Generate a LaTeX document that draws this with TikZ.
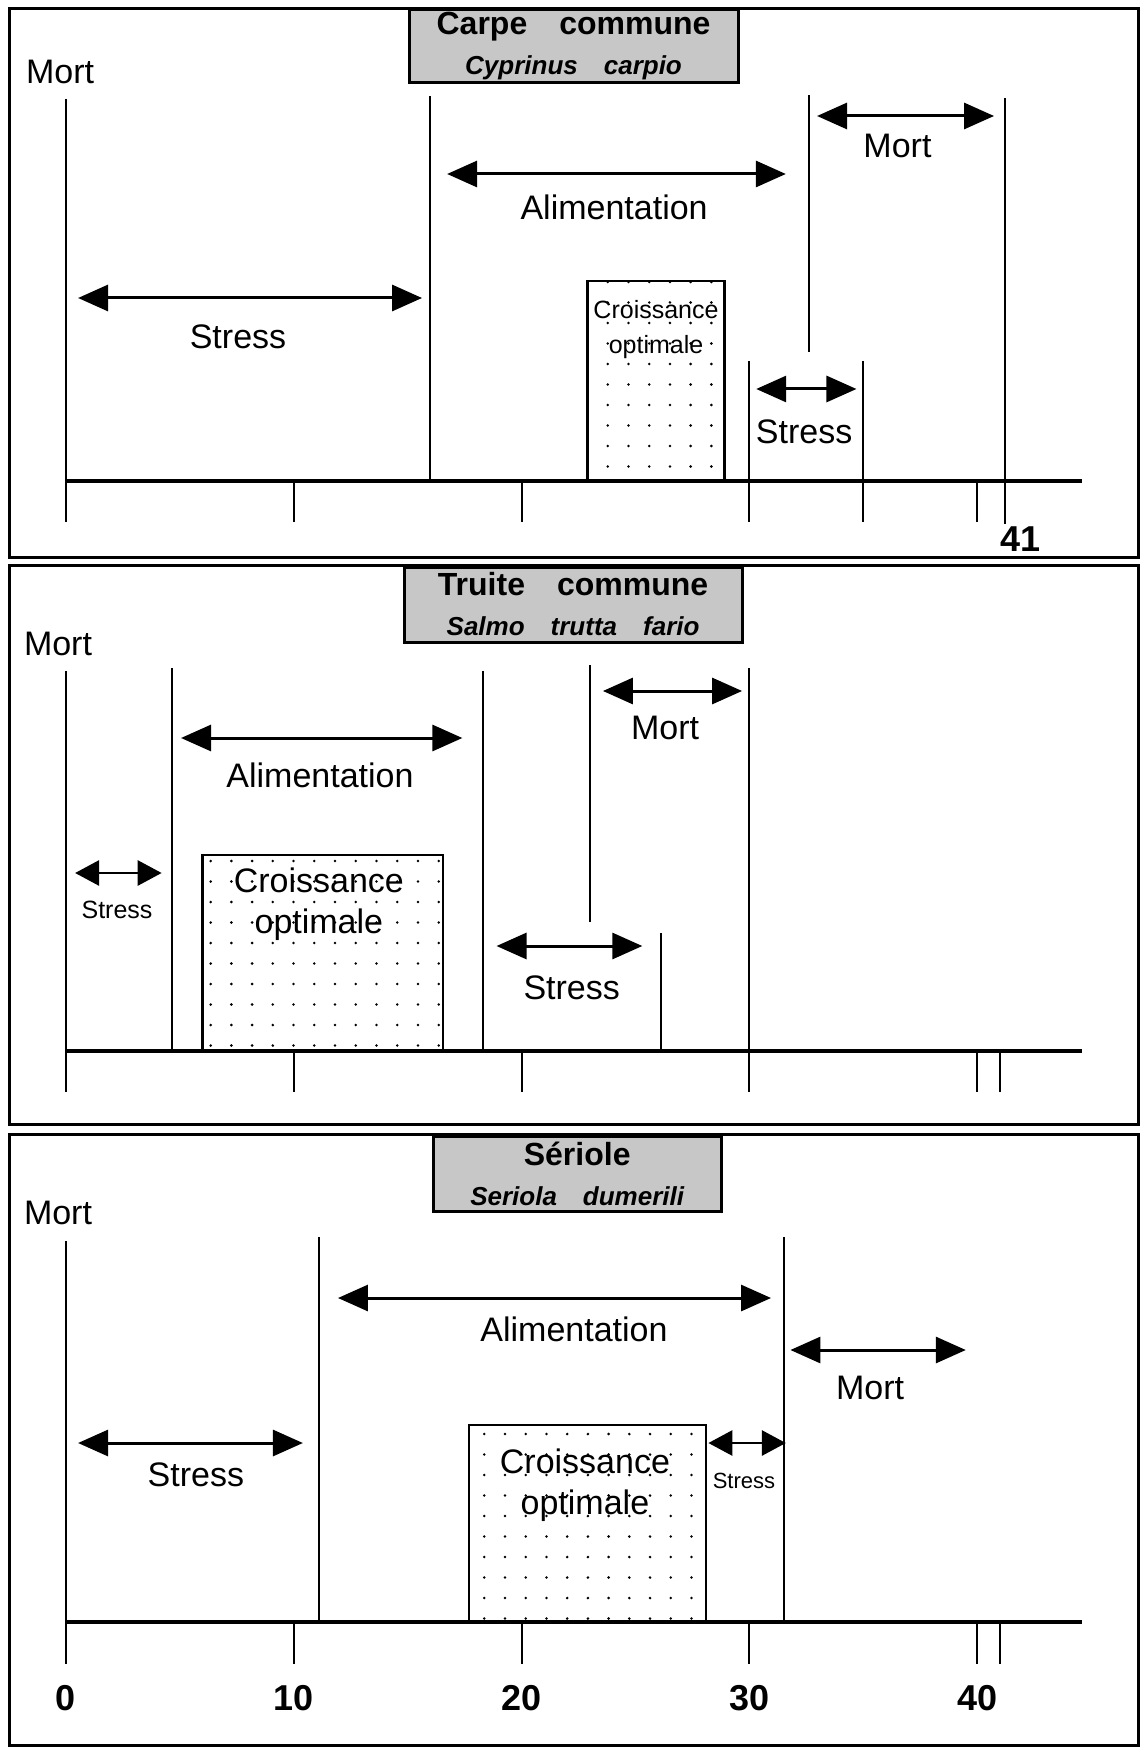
\documentclass[tikz,border=0pt]{standalone}
\usepackage{fontspec}
\setmainfont{Liberation Sans}
\usepackage{tikz}
\usetikzlibrary{arrows.meta}
\tikzset{
    frame line/.style={line width=1.5pt},
    axis line/.style={line width=1.6pt},
    limit line/.style={line width=1pt},
    range line/.style={line width=1.5pt,
      {Triangle[length=15pt,width=13pt]}-{Triangle[length=15pt,width=13pt]}},
    small range line/.style={line width=1.4pt,
      {Triangle[length=12pt,width=12.5pt]}-{Triangle[length=12pt,width=12.5pt]}},
    zone/.style={font=\fontsize{17}{20}\selectfont},
    title box/.style={draw, line width=1.5pt, fill=black!22, align=center,
      inner sep=0pt, font=\fontsize{16}{20}\selectfont},
    growth box/.style={draw, line width=1.2pt},
    tick label/.style={font=\fontsize{18}{20}\selectfont\bfseries}
}
% axis line at #1, ticks down to #2 at the values #3
\newcommand{\fishaxis}[3]{%
  \draw[axis line] (0,#1) -- (44.6,#1);
  \foreach \tk in {#3} \draw[limit line] (\tk,#1) -- (\tk,#2);}
% dotted box (#1,#2)-(#3,#4), first dot offset #5 (x) and #6 (y)
\newcommand{\stipple}[6]{%
  \begin{scope}
    \clip (#1,#2) rectangle (#3,#4);
    \foreach \i in {0,...,12} \foreach \j in {0,...,10}
      \fill (#1+#5+0.91*\i, #2+#6+20.5*\j) circle [radius=0.7pt];
  \end{scope}
  \draw[growth box] (#1,#2) rectangle (#3,#4);}

\begin{document}
\begin{tikzpicture}[x=11.39pt, y=-0.5pt]
  \useasboundingbox (-2.897,0) rectangle (47.41,1748);

  % carpe commune
  \draw[frame line] (-2.5,9) rectangle (47.1,557);
  \node[title box, minimum width=164.5pt, minimum height=36.5pt] (ctitle)
  at (22.28,46.5) {\fontsize{16}{20}\selectfont\bfseries Carpe\quad commune\\
    \fontsize{13}{20}\selectfont\bfseries\itshape Cyprinus\quad carpio};
  \node[zone] (cmort) at (-0.26,72) {Mort};
  \fishaxis{481}{522}{0,10,20,40}
  \draw[limit line] (0,99) -- (0,481);
  \draw[limit line] (16,96) -- (16,481);
  \draw[limit line] (32.6,95) -- (32.6,352);
  \draw[limit line] (41.2,98) -- (41.2,524);
  \draw[limit line] (30,361) -- (30,522);
  \draw[limit line] (35,361) -- (35,522);

  \coordinate (cM0) at (32.97,116); \coordinate (cM1) at (40.74,116);
  \draw[range line] (cM0) -- (cM1);
  \node[zone] (cmortb) at (36.5,146) {Mort};
  \coordinate (cA0) at (16.73,174); \coordinate (cA1) at (31.6,174);
  \draw[range line] (cA0) -- (cA1);
  \node[zone] (calim) at (24.06,207) {Alimentation};
  \coordinate (cS0) at (0.53,298); \coordinate (cS1) at (15.63,298);
  \draw[range line] (cS0) -- (cS1);
  \node[zone] (cstress) at (7.55,337) {Stress};
  \coordinate (cT0) at (30.3,389); \coordinate (cT1) at (34.7,389);
  \draw[range line] (cT0) -- (cT1);
  \node[zone] (cstressb) at (32.4,432) {Stress};

  \stipple{22.9}{281}{28.9}{481}{0.88}{1}
  \node[font=\fontsize{12.5}{17.5}\selectfont, align=center] (cgrowth)
  at (25.9,330) {Croissance\\optimale};
  \node[tick label] (c41) at (41.88,539) {41};

  % truite commune
  \draw[frame line] (-2.5,565) rectangle (47.1,1124);
  \node[title box, minimum width=169pt, minimum height=37.5pt] (ttitle)
  at (22.26,604.5) {\fontsize{16}{20}\selectfont\bfseries Truite\quad commune\\
    \fontsize{13}{20}\selectfont\bfseries\itshape Salmo\quad trutta\quad fario};
  \node[zone] (tmort) at (-0.35,644) {Mort};
  \fishaxis{1051}{1092}{0,10,20,40,41}
  \draw[limit line] (0,671) -- (0,1051);
  \draw[limit line] (4.64,668) -- (4.64,1051);
  \draw[limit line] (18.3,671) -- (18.3,1051);
  \draw[limit line] (23,665) -- (23,922);
  \draw[limit line] (26.1,933) -- (26.1,1051);
  \draw[limit line] (30,668) -- (30,1092);

  \coordinate (tM0) at (23.57,691); \coordinate (tM1) at (29.68,691);
  \draw[range line] (tM0) -- (tM1);
  \node[zone] (tmortb) at (26.3,728) {Mort};
  \coordinate (tA0) at (5.05,738); \coordinate (tA1) at (17.4,738);
  \draw[range line] (tA0) -- (tA1);
  \node[zone] (talim) at (11.15,775) {Alimentation};
  \coordinate (tS0) at (0.4,873); \coordinate (tS1) at (4.2,873);
  \draw[small range line] (tS0) -- (tS1);
  \node[font=\fontsize{12.5}{15}\selectfont] (tstress) at (2.24,910) {Stress};
  \coordinate (tT0) at (18.9,946); \coordinate (tT1) at (25.3,946);
  \draw[range line] (tT0) -- (tT1);
  \node[zone] (tstressb) at (22.2,988) {Stress};

  \stipple{6.0}{855}{16.55}{1051}{0.35}{6}
  \node[font=\fontsize{17}{20.5}\selectfont, align=center] (tgrowth)
  at (11.1,904) {Croissance\\optimale};

  % seriole
  \draw[frame line] (-2.5,1134) rectangle (47.1,1745);
  \node[title box, minimum width=144pt, minimum height=37.5pt] (stitle)
  at (22.44,1173.5) {\fontsize{16}{20}\selectfont\bfseries Sériole\\
    \fontsize{13}{20}\selectfont\bfseries\itshape Seriola\quad dumerili};
  \node[zone] (smort) at (-0.35,1213) {Mort};
  \fishaxis{1622}{1664}{0,10,20,30,40,41}
  \draw[limit line] (0,1241) -- (0,1622);
  \draw[limit line] (11.1,1237) -- (11.1,1622);
  \draw[limit line] (31.5,1237) -- (31.5,1622);

  \coordinate (sA0) at (11.94,1298); \coordinate (sA1) at (30.95,1298);
  \draw[range line] (sA0) -- (sA1);
  \node[zone] (salim) at (22.3,1329) {Alimentation};
  \coordinate (sM0) at (31.8,1350); \coordinate (sM1) at (39.5,1350);
  \draw[range line] (sM0) -- (sM1);
  \node[zone] (smortb) at (35.3,1388) {Mort};
  \coordinate (sS0) at (0.53,1443); \coordinate (sS1) at (10.4,1443);
  \draw[range line] (sS0) -- (sS1);
  \node[zone] (sstress) at (5.7,1475) {Stress};
  \coordinate (sT0) at (28.2,1443); \coordinate (sT1) at (31.6,1443);
  \draw[small range line] (sT0) -- (sT1);
  \node[font=\fontsize{11}{13}\selectfont] (sstressb) at (29.76,1481) {Stress};

  \stipple{17.7}{1425}{28.1}{1622}{0.66}{9}
  \node[font=\fontsize{17}{20.5}\selectfont, align=center] (sgrowth)
  at (22.78,1485) {Croissance\\optimale};

  \foreach \tk in {0,10,20,30,40}
    \node[tick label] (s\tk) at (\tk,1698) {\tk};
\end{tikzpicture}
\end{document}
